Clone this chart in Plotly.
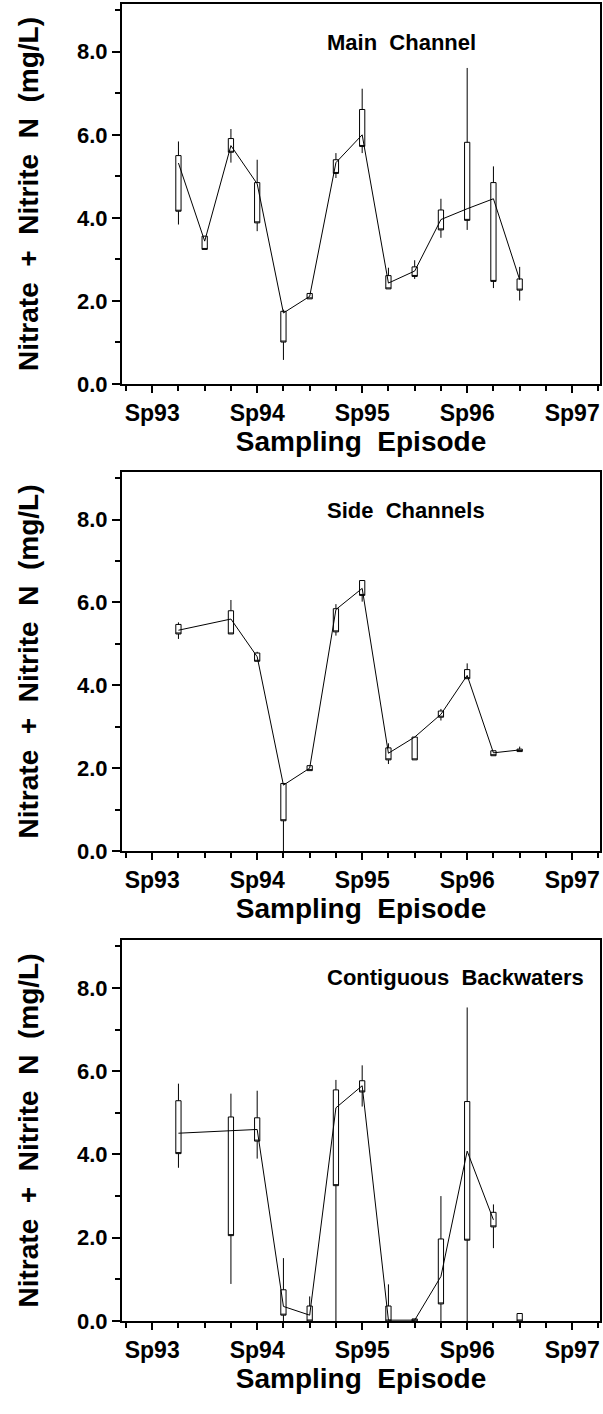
import plotly.graph_objects as go

# ---- data (x = quarter index, 0 = Sp93) ----
quarter_ticks = [0, 4, 8, 12, 16]
quarter_labels = ["Sp93", "Sp94", "Sp95", "Sp96", "Sp97"]

main_x = [1, 2, 3, 4, 5, 6, 7, 8, 9, 10, 11, 12, 13, 14]
main_lo = [3.84, 3.24, 5.33, 3.68, 0.58, 2.05, 4.96, 5.56, 2.29, 2.53, 3.52, 3.71, 2.31, 2.01]
main_q1 = [4.16, 3.24, 5.58, 3.88, 1.01, 2.05, 5.07, 5.72, 2.29, 2.59, 3.71, 3.94, 2.47, 2.26]
main_q3 = [5.50, 3.56, 5.91, 4.85, 1.75, 2.18, 5.40, 6.61, 2.61, 2.82, 4.19, 5.82, 4.85, 2.53]
main_hi = [5.84, 3.56, 6.14, 5.40, 1.79, 2.18, 5.56, 7.11, 2.80, 2.98, 4.46, 7.61, 5.24, 2.82]
main_mean = [5.32, 3.44, 5.74, 4.82, 1.71, 2.11, 5.33, 6.00, 2.43, 2.72, 3.96, 4.22, 4.46, 2.51]

side_x = [1, 3, 4, 5, 6, 7, 8, 9, 10, 11, 12, 13, 14]
side_lo = [5.12, 5.24, 4.58, 0.00, 1.94, 5.20, 6.02, 2.10, 2.20, 3.15, 4.16, 2.30, 2.40]
side_q1 = [5.24, 5.24, 4.58, 0.73, 1.94, 5.29, 6.17, 2.20, 2.20, 3.23, 4.16, 2.30, 2.40]
side_q3 = [5.47, 5.80, 4.78, 1.63, 2.06, 5.85, 6.53, 2.49, 2.75, 3.38, 4.38, 2.42, 2.46]
side_hi = [5.52, 6.06, 4.81, 1.63, 2.06, 5.96, 6.53, 2.60, 2.75, 3.43, 4.53, 2.42, 2.52]
side_mean = [5.33, 5.60, 4.69, 1.59, 2.00, 5.83, 6.34, 2.36, 2.75, 3.30, 4.24, 2.37, 2.44]

back_x = [1, 3, 4, 5, 6, 7, 8, 9, 10, 11, 12, 13, 14]
back_lo = [3.68, 0.89, 3.90, 0.00, 0.00, 0.00, 5.15, 0.00, 0.00, 0.00, 0.00, 1.75, 0.00]
back_q1 = [4.02, 2.05, 4.32, 0.14, 0.00, 3.25, 5.50, 0.00, 0.00, 0.41, 1.94, 2.26, 0.00]
back_q3 = [5.29, 4.90, 4.88, 0.75, 0.36, 5.55, 5.77, 0.36, 0.05, 1.97, 5.27, 2.61, 0.18]
back_hi = [5.70, 5.46, 5.53, 1.51, 0.59, 5.79, 6.14, 0.88, 0.05, 3.00, 7.53, 2.80, 0.18]
back_mean = [4.51, 4.57, 4.60, 0.35, 0.14, 5.12, 5.65, 0.02, 0.02, 1.07, 4.08, 2.43, None]

panel_titles = ["Main\u00a0\u00a0Channel", "Side\u00a0\u00a0Channels", "Contiguous\u00a0\u00a0Backwaters"]
x_title = "Sampling\u00a0\u00a0Episode"
y_title = "Nitrate\u00a0\u00a0+\u00a0\u00a0Nitrite\u00a0\u00a0N\u00a0\u00a0(mg/L)"

panels = [
    (main_x, main_lo, main_q1, main_q3, main_hi, main_mean),
    (side_x, side_lo, side_q1, side_q3, side_hi, side_mean),
    (back_x, back_lo, back_q1, back_q3, back_hi, back_mean),
]

W, H = 603, 1414
FONT = "Liberation Sans, Arial, sans-serif"
# panel pixel boxes: (top, bottom)
panel_px = [(4, 384), (472, 851), (940, 1321)]
x_px = (122, 600)
title_y_px = [42, 510, 977]

fig = go.Figure()
layout = dict(
    width=W, height=H, margin=dict(l=0, r=0, t=0, b=0, autoexpand=False),
    paper_bgcolor="white", plot_bgcolor="white", showlegend=False,
    font=dict(family=FONT, color="black", size=22, weight="bold"),
    annotations=[],
)

for i, (xs, lo, q1, q3, hi, mean) in enumerate(panels):
    n = "" if i == 0 else str(i + 1)
    xa, ya = "x" + n, "y" + n
    fig.add_trace(go.Box(
        x=xs, lowerfence=lo, q1=q1, median=q1, q3=q3, upperfence=hi,
        xaxis=xa, yaxis=ya, width=0.2, whiskerwidth=0, boxpoints=False,
        fillcolor="white", line=dict(color="black", width=1),
        hoverinfo="skip",
    ))
    mx = [x for x, m in zip(xs, mean) if m is not None]
    my = [m for m in mean if m is not None]
    fig.add_trace(go.Scatter(
        x=mx, y=my, mode="lines", xaxis=xa, yaxis=ya,
        line=dict(color="black", width=1), hoverinfo="skip",
    ))
    top, bot = panel_px[i]
    layout["xaxis" + n] = dict(
        domain=[x_px[0] / W, x_px[1] / W], range=[-1.15, 17.06],
        anchor=ya, tickvals=quarter_ticks, ticktext=quarter_labels,
        ticks="outside", ticklen=7, tickwidth=2, tickcolor="black",
        minor=dict(dtick=1, tick0=0, ticks="outside", ticklen=5, tickwidth=2, tickcolor="black"),
        showline=True, linewidth=2, linecolor="black", mirror=True,
        showgrid=False, zeroline=False, automargin=False,
        tickfont=dict(family=FONT, size=23, weight="bold"),
        title=dict(text=x_title, font=dict(family=FONT, size=28, weight="bold"), standoff=5),
    )
    layout["yaxis" + n] = dict(
        domain=[1 - bot / H, 1 - top / H], range=[0, 9.15],
        anchor=xa, tickvals=[0, 2, 4, 6, 8], tickformat=".1f",
        ticks="outside", ticklen=8, tickwidth=2, tickcolor="black",
        minor=dict(dtick=1, tick0=0, ticks="outside", ticklen=5, tickwidth=2, tickcolor="black"),
        showline=True, linewidth=2, linecolor="black", mirror=True,
        showgrid=False, zeroline=False, automargin=False,
        tickfont=dict(family=FONT, size=22, weight="bold"),
        title=dict(text=y_title, font=dict(family=FONT, size=28, weight="bold"), standoff=30),
    )
    layout["annotations"].append(dict(
        text=panel_titles[i], xref="paper", yref="paper",
        x=325 / W, y=1 - title_y_px[i] / H, xanchor="left", yanchor="middle",
        showarrow=False, font=dict(family=FONT, size=22, weight="bold"),
    ))

fig.update_layout(**layout)
fig.write_html(
    "out.html",
    config={"displayModeBar": False},
    post_script="document.body.style.margin='0';document.body.style.overflow='hidden';",
)
